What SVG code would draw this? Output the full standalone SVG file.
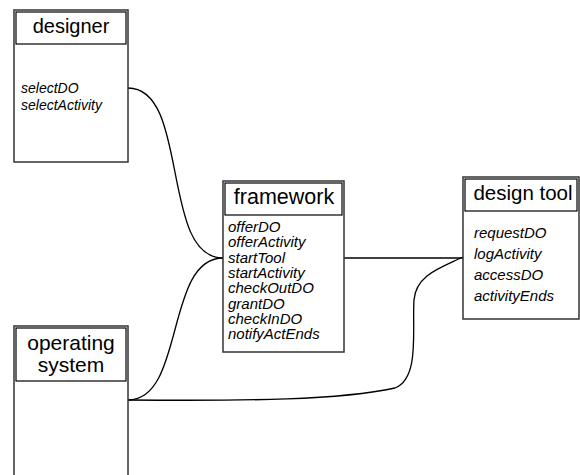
<svg xmlns="http://www.w3.org/2000/svg" width="580" height="475" viewBox="0 0 580 475">
<style>
.outer{fill:#fff;stroke:#333;stroke-width:1.5}
.title{fill:#fff;stroke:#000;stroke-width:1.2}
.t{font-family:"Liberation Sans",Arial,sans-serif;fill:#000;text-anchor:middle}
.op{font-family:"Liberation Sans",Arial,sans-serif;font-style:italic;fill:#000}
.c{fill:none;stroke:#000;stroke-width:1.3}
</style>
<rect width="580" height="475" fill="#fff"/>
<g id="connectors">
<path class="c" d="M128,88 C190,88 160,258 223,258"/>
<path class="c" d="M128,400 C185,400 165,258 223,258"/>
<path class="c" d="M344,258 L463,258"/>
<path class="c" d="M128,400 C250,401 340,400 395,388 C420,378 412,330 414,300 C416,275 440,268 463,257"/>
</g>
<g id="designer">
<rect class="outer" x="14" y="10" width="114" height="152"/>
<rect class="title" x="16" y="12" width="110" height="32"/>
<text class="t" x="71" y="33" font-size="20">designer</text>
<text class="op" x="21" y="93" font-size="14">selectDO</text>
<text class="op" x="21" y="110" font-size="14">selectActivity</text>
</g>
<g id="framework">
<rect class="outer" x="223" y="181" width="121" height="171"/>
<rect class="title" x="225" y="183" width="117" height="32"/>
<text class="t" x="284" y="204" font-size="21.5">framework</text>
<text class="op" x="228" y="232" font-size="15">offerDO</text>
<text class="op" x="228" y="247.3" font-size="15">offerActivity</text>
<text class="op" x="228" y="262.6" font-size="15">startTool</text>
<text class="op" x="228" y="277.9" font-size="15">startActivity</text>
<text class="op" x="228" y="293.2" font-size="15">checkOutDO</text>
<text class="op" x="228" y="308.5" font-size="15">grantDO</text>
<text class="op" x="228" y="323.8" font-size="15">checkInDO</text>
<text class="op" x="228" y="339.1" font-size="15">notifyActEnds</text>
</g>
<g id="design-tool">
<rect class="outer" x="463" y="177" width="116" height="142"/>
<rect class="title" x="465" y="179" width="112" height="32"/>
<text class="t" x="523" y="200" font-size="20.5">design tool</text>
<text class="op" x="474" y="238" font-size="15">requestDO</text>
<text class="op" x="474" y="259" font-size="15">logActivity</text>
<text class="op" x="474" y="280" font-size="15">accessDO</text>
<text class="op" x="474" y="301" font-size="15">activityEnds</text>
</g>
<g id="operating-system">
<rect class="outer" x="14" y="326" width="114" height="160"/>
<rect class="title" x="16" y="328" width="110" height="53"/>
<text class="t" x="71" y="350" font-size="21">operating</text>
<text class="t" x="71" y="372" font-size="21">system</text>
</g>
</svg>
